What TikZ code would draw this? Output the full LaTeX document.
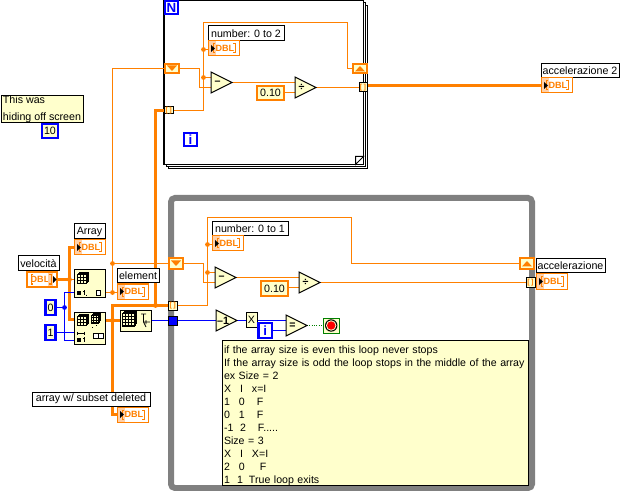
\documentclass[tikz,border=0pt]{standalone}
\usepackage{fontspec}
\setmainfont{Liberation Sans}
\definecolor{dblorange}{HTML}{FF8000}
\definecolor{paleorange}{HTML}{FFD0A8}
\definecolor{iconfill}{HTML}{FFFFCC}
\definecolor{loopgrey}{HTML}{808080}
\definecolor{intblue}{HTML}{0000FF}
\definecolor{boolgreen}{HTML}{008000}
\pgfdeclarelayer{loops}
\pgfdeclarelayer{wires}
\pgfsetlayers{loops,wires,main}
\tikzset{
  plainbox/.style={draw=black,line width=0.75pt,fill=white,inner sep=0pt,outer sep=0pt,font=\fontsize{8}{10}\selectfont},
  iconbox/.style={draw=black,line width=0.75pt,fill=iconfill,inner sep=0pt,outer sep=0pt},
  shell/.style={inner sep=0pt,outer sep=0pt},
  dblfront/.style={draw=dblorange,line width=0.75pt,fill=white,inner sep=0pt,outer sep=0pt,text=dblorange,font=\fontsize{6.8}{8}\bfseries\selectfont},
  dblctrl/.style={draw=dblorange,line width=1.7pt,fill=white,inner sep=0pt,outer sep=0pt,text=dblorange,font=\fontsize{6.8}{8}\bfseries\selectfont},
  dblconst/.style={draw=dblorange,line width=1.9pt,fill=iconfill,inner sep=0pt,outer sep=0pt,font=\fontsize{8}{10}\selectfont},
  intconst/.style={draw=intblue,line width=1.9pt,fill=iconfill,inner sep=0pt,outer sep=0pt,font=\fontsize{8}{10}\selectfont},
  terminal/.style={draw=intblue,line width=1.9pt,fill=white,inner sep=0pt,outer sep=0pt,text=intblue,font=\fontsize{10}{12}\bfseries\selectfont},
  shiftreg/.style={draw=dblorange,line width=1.7pt,fill=iconfill,inner sep=0pt,outer sep=0pt},
  tunnel/.style={draw=black,line width=0.75pt,fill=iconfill,inner sep=0pt,outer sep=0pt,text=dblorange,font=\fontsize{5.5}{6}\bfseries\selectfont},
  bluetunnel/.style={draw=black,line width=0.75pt,fill=intblue,inner sep=0pt,outer sep=0pt},
  thinwire/.style={draw=dblorange,line width=0.75pt},
  thickwire/.style={draw=dblorange,line width=1.8pt},
  bluewire/.style={draw=intblue,line width=0.75pt},
  joint/.style={fill=#1,circle,inner sep=0pt,minimum size=3.6pt},
  glyph/.style={inner sep=0pt,font=\fontsize{8}{9}\bfseries\selectfont},
}
% A node given by its pixel box: name, left, top, right, bottom, style, text
\newcommand{\lvbox}[7]{%
  \pgfmathsetmacro{\lvw}{(#4-#2)*0.75}%
  \pgfmathsetmacro{\lvh}{(#5-#3)*0.75}%
  \node[#6,anchor=north west,minimum width=\lvw pt,minimum height=\lvh pt] (#1) at (#2,#3) {#7};}
% Numeric indicator: name, left, top
\newcommand{\dblind}[3]{%
  \lvbox{#1}{#2}{#3}{#2+31}{#3+15}{dblfront}{\hspace{2pt}DBL}
  \fill[paleorange] ({#2+0.5},{#3+0.5}) rectangle ({#2+8},{#3+14.5});
  \draw[dblorange,line width=0.75pt] ({#2+7},{#3+3}) -- ({#2+5},{#3+3}) -- ({#2+5},{#3+12}) -- ({#2+7},{#3+12});
  \draw[dblorange,line width=0.75pt] ({#2+25},{#3+3}) -- ({#2+27},{#3+3}) -- ({#2+27},{#3+12}) -- ({#2+25},{#3+12});
  \fill[black] ({#2+3},{#3+4}) -- ({#2+7},{#3+7.5}) -- ({#2+3},{#3+11}) -- cycle;}
% Numeric control: name, left, top
\newcommand{\dblctl}[3]{%
  \lvbox{#1}{#2}{#3}{#2+30}{#3+15}{dblctrl}{\hspace{-3pt}DBL}
  \fill[paleorange] ({#2+21},{#3+1.5}) rectangle ({#2+26},{#3+13.5});
  \draw[dblorange,line width=0.75pt] ({#2+6},{#3+3}) -- ({#2+4},{#3+3}) -- ({#2+4},{#3+12}) -- ({#2+6},{#3+12});
  \draw[dblorange,line width=0.75pt] ({#2+22},{#3+3}) -- ({#2+24},{#3+3}) -- ({#2+24},{#3+12}) -- ({#2+22},{#3+12});
  \fill[black] ({#2+26},{#3+4}) -- ({#2+29.5},{#3+7.5}) -- ({#2+26},{#3+11}) -- cycle;}
% Triangular function: name, left, top, right, bottom, symbol
\newcommand{\lvtri}[6]{%
  \lvbox{#1}{#2}{#3}{#4}{#5}{shell}{}
  \draw[iconbox] (#1.north west) -- (#1.east) -- (#1.south west) -- cycle;
  \node[glyph] (#1sym) at ({#2+6.5},{(#3+#5)/2}) {#6};}
% Stacked array grid: left, top, cell size, cells across
\newcommand{\arrgrid}[4]{%
  \pgfmathsetmacro{\lvs}{#3*#4}%
  \foreach \lvo in {2,1,0}{%
    \draw[black,line width=0.5pt,fill=iconfill,shift={(\lvo,-\lvo+2)}] (#1,#2) rectangle ({#1+\lvs},{#2+\lvs});}
  \foreach \lvi in {1,...,#4}{%
    \draw[black,line width=0.35pt] ({#1+\lvi*#3},{#2+2}) -- ({#1+\lvi*#3},{#2+\lvs+2});
    \draw[black,line width=0.35pt] (#1,{#2+2+\lvi*#3}) -- ({#1+\lvs},{#2+2+\lvi*#3});}}
% One row of the truth table in the comment
\newcommand{\cmtrow}[5]{\makebox[#1][l]{#2}\makebox[#3][l]{#4}#5}

\begin{document}
\begin{tikzpicture}[x=0.75pt,y=-0.75pt]
\useasboundingbox (0,0) rectangle (620,491);

% ---- structures ----
\begin{pgfonlayer}{loops}
  \fill[white] (0,0) rectangle (620,491);
  \draw[black,line width=0.75pt,fill=white] (168,6) rectangle (367.5,168.5);
  \draw[black,line width=0.75pt,fill=white] (166,3) rectangle (365.5,166.5);
  \draw[black,line width=1.1pt,fill=white] (164,0.5) rectangle (363.5,164.5);
  \draw[black,line width=0.75pt,fill=white] (355.5,164.5) -- (355.5,156.5) -- (363.5,156.5) -- cycle;
  \draw[loopgrey,line width=4.5pt,rounded corners=3pt] (171,198) rectangle (532,488);
\end{pgfonlayer}

% ---- For loop contents ----
\lvbox{nterm}{165}{1}{178}{14}{terminal}{N}
\lvbox{iterm}{184}{133}{197}{146}{terminal}{i}
\lvbox{srtopl}{165}{64}{179}{73}{shiftreg}{}
\fill[dblorange] (167,65.5) -- (177,65.5) -- (172,71) -- cycle;
\lvbox{srtopr}{353}{64}{367}{73}{shiftreg}{}
\fill[dblorange] (355,71.5) -- (365,71.5) -- (360,66) -- cycle;
\lvbox{tuntopl}{164.5}{107}{173}{114}{tunnel}{[\,]}
\lvbox{tuntopr}{359}{83}{367}{92}{tunnel}{[\,]}
\lvbox{numtop}{208}{26}{284}{41}{plainbox}{number: 0 to 2}
\dblind{indtop}{208}{41}
\lvtri{subtop}{211}{72}{232}{93}{–}
\lvtri{divtop}{295}{77}{316}{98}{÷}
\lvbox{consttop}{257}{86}{284}{100}{dblconst}{0.10}
\coordinate (subtopa) at (211,77.5);
\coordinate (subtopb) at (211,87.5);
\coordinate (divtopa) at (295,82.5);
\coordinate (divtopb) at (295,92.5);

% ---- While loop contents ----
\lvbox{srbotl}{169}{258}{183}{269}{shiftreg}{}
\fill[dblorange] (171,260.5) -- (181,260.5) -- (176,266) -- cycle;
\lvbox{srbotr}{520}{258}{534}{269}{shiftreg}{}
\fill[dblorange] (522,266.5) -- (532,266.5) -- (527,261) -- cycle;
\lvbox{tunbotl}{168.5}{301}{177}{310}{tunnel}{[\,]}
\lvbox{tunbotr}{526}{278}{535}{287}{tunnel}{[\,]}
\lvbox{tunblue}{168.5}{316}{177}{325}{bluetunnel}{}
\lvbox{numbot}{212}{222}{288}{236}{plainbox}{number: 0 to 1}
\dblind{indbot}{212}{236}
\lvtri{subbot}{215}{267}{236}{288}{–}
\lvtri{divbot}{299}{272}{320}{293}{÷}
\lvbox{constbot}{261}{281}{288}{296}{dblconst}{0.10}
\coordinate (subbota) at (215,272.5);
\coordinate (subbotb) at (215,282.5);
\coordinate (divbota) at (299,277.5);
\coordinate (divbotb) at (299,287.5);
\lvtri{decr}{216}{310}{237}{331}{\hspace{1pt}–1}
\lvbox{xnode}{246}{312}{257}{327}{iconbox,font=\fontsize{8}{10}\selectfont}{X}
\lvbox{ibot}{258.5}{323}{272}{338}{terminal}{i}
\lvtri{equal}{286}{315}{307}{336}{=}
\coordinate (equala) at (286,320.5);
\coordinate (equalb) at (286,330.5);
\lvbox{stopn}{323.5}{318}{339}{333}{iconbox,draw=boolgreen}{}
\fill[black] (331.2,325.5) circle (6.2);
\fill[iconfill] (331.2,325.5) circle (5.2);
\fill[red] (331.2,325.5) circle (4.2);
\lvbox{comment}{222}{340}{528}{484}{iconbox,align=left,text width=226.5pt,inner xsep=1.2pt,font=\fontsize{7.95}{9.75}\selectfont}{%
\rule{0pt}{10pt}if the array size is even this loop never stops\\
If the array size is odd the loop stops in the middle of the array\\
ex Size = 2\\
\cmtrow{12pt}{X}{9pt}{I}{x=I}\\
\cmtrow{11.25pt}{1}{13.5pt}{0}{F}\\
\cmtrow{11.25pt}{0}{13.5pt}{1}{F}\\
\cmtrow{12pt}{-1}{13.5pt}{2}{F.....}\\
Size = 3\\
\cmtrow{12pt}{X}{9pt}{I}{X=I}\\
\cmtrow{11.25pt}{2}{15.75pt}{0}{F}\\
\cmtrow{9.75pt}{1}{9pt}{1}{True loop exits}}

% ---- Front panel terminals and labels ----
\lvbox{velabel}{18}{256}{59}{271}{plainbox}{velocità}
\dblctl{velctl}{27}{272}
\lvbox{arrlabel}{74}{224}{105}{239}{plainbox}{Array}
\dblind{arrind}{74}{240}
\lvbox{ellabel}{117}{269}{159}{283}{plainbox}{element}
\dblind{elind}{117}{284}
\lvbox{dellabel}{32}{392}{150}{406}{plainbox}{array w/ subset deleted}
\dblind{delind}{117}{407}
\lvbox{acc2label}{541}{64}{619}{78}{plainbox}{accelerazione 2}
\dblind{acc2ind}{541}{78}
\lvbox{acclabel}{536}{259}{605}{273}{plainbox}{accelerazione}
\dblind{accind}{536}{274}
\lvbox{note}{1}{96}{83}{122}{iconbox,align=left,font=\fontsize{8}{12.5}\selectfont}{This was\\hiding off screen}
\lvbox{tenconst}{42}{124}{58}{138}{intconst}{10}
\lvbox{zero}{45.5}{300}{55.5}{315}{intconst}{0}
\lvbox{one}{45.5}{325}{55.5}{340}{intconst}{1}

% ---- Array functions ----
\lvbox{index}{74}{270}{105.5}{297}{iconbox}{}
\arrgrid{77}{272}{3}{3}
\fill[black] (77,291) rectangle (81,295);
\draw[black,line width=0.5pt] (83,291) -- (85,291) (84,290) -- (84,295) (86,294.5) -- (86,295);
\draw[black,line width=0.6pt,fill=white] (96,290) rectangle (100,295);
\lvbox{delsub}{74}{312}{105.5}{344}{iconbox}{}
\arrgrid{77}{314}{3}{3}
\arrgrid{91}{313}{2.6}{3}
\draw[black,line width=0.5pt] (77,331.5) -- (77,335) (77,333) -- (84,333) (84,331.5) -- (84,335);
\fill[black] (77,338) rectangle (81,342);
\draw[black,line width=0.5pt] (83,338) -- (85,338) (84,337) -- (84,342);
\fill[black] (92,327) rectangle (93,328);
\fill[black] (96,325) rectangle (97,326);
\draw[black,line width=0.6pt,fill=white] (93,333) rectangle (98,338);
\draw[black,line width=0.6pt,fill=white] (98,333) rectangle (103,338);
\lvbox{reshape}{120}{310}{151.5}{331}{iconbox}{}
\arrgrid{122}{311}{3.2}{4}
\draw[black,line width=0.6pt] (141,314) -- (146,314) (143.5,314) -- (143.5,322) -- (150,322) (143.5,322) -- (146,327) (146,320) -- (146,324);

% ---- Wire junctions ----
\coordinate (velj) at (69.5,279.5);
\coordinate (velk) at (69.5,319.5);
\coordinate (elj) at (112.5,292.5);
\coordinate (elk) at (112.5,263.5);
\coordinate (delj) at (112.5,320.5);
\coordinate (elt) at (112.5,68.5);
\coordinate (delt) at (112.5,305.5);
\coordinate (deli) at (112.5,414.5);
\coordinate (dels) at (155.5,305.5);
\coordinate (delu) at (155.5,110.5);
\coordinate (tj0) at (199.5,68.5);
\coordinate (tj3) at (199.5,87.5);
\coordinate (tj4) at (203.5,110.5);
\coordinate (tj5) at (203.5,22.5);
\coordinate (tj6) at (347.5,22.5);
\coordinate (tj7) at (347.5,68.5);
\coordinate (tj1) at (203.5,49.5);
\coordinate (tj2) at (203.5,77.5);
\coordinate (acc2pin) at (367,85.5);
\coordinate (bj0) at (203.5,263.5);
\coordinate (bj3) at (203.5,282.5);
\coordinate (bj4) at (207.5,305.5);
\coordinate (bj5) at (207.5,217.5);
\coordinate (bj6) at (351.5,217.5);
\coordinate (bj7) at (351.5,263.5);
\coordinate (bj1) at (207.5,244.5);
\coordinate (bj2) at (207.5,272.5);
\coordinate (blj) at (64.5,307.5);
\coordinate (blu) at (64.5,292.5);
\coordinate (bld) at (64.5,340.5);
\coordinate (idxb) at (74,292.5);
\coordinate (dsa) at (74,340.5);
\coordinate (dsb) at (74,332.5);
\coordinate (tunel) at (117,292.5);

\begin{pgfonlayer}{wires}
  % Numeric wires on the left
  \draw[thickwire] (velctl.east) -- (velj);
  \draw[thickwire] (arrind.west) -| (velj);
  \draw[thickwire] (velj) -- (velk) -- (delsub.west |- velk);
  \draw[thinwire] (velj) -- (index.west |- velj);
  \draw[thinwire] (index.east |- elj) -- (tunel);
  \draw[thinwire] (elj) -- (elt) -- (srtopl.west);
  \draw[thinwire] (elk) -- (srbotl.west);
  \draw[thickwire] (delsub.east |- delj) -- (reshape.west);
  \draw[thickwire] (delj) -- (delt) -- (tunbotl.west |- delt);
  \draw[thickwire] (delj) -- (deli) -- (delind.west);
  \draw[thickwire] (dels) -- (delu) -- (tuntopl.west);
  % Integer wires
  \draw[bluewire] (zero.east) -- (blj);
  \draw[bluewire] (idxb) -- (blu) -- (bld) -- (dsa);
  \draw[bluewire] (one.east) -- (dsb);
  \draw[bluewire] (reshape.east) -- (tunblue.west);
  \draw[bluewire] (tunblue.east) -- (decr.west);
  \draw[bluewire] (decr.east) -- (equala);
  \draw[bluewire] (ibot.east) -- (equalb);
  \draw[boolgreen,line width=0.75pt,densely dotted] (equal.east) -- (stopn.west);
  % For loop wiring
  \draw[thinwire] (srtopl.east) -- (tj0) -- (tj3) -- (subtopb);
  \draw[thinwire] (tuntopl.east) -- (tj4) -- (tj5) -- (tj6) -- (tj7) -- (srtopr.west);
  \draw[thinwire] (tj1) -- (indtop.west |- tj1);
  \draw[thinwire] (tj2) -- (subtopa);
  \draw[thinwire] (subtop.east) -- (divtopa);
  \draw[thinwire] (consttop.east |- divtopb) -- (divtopb);
  \draw[thinwire] (divtop.east) -- (tuntopr.west);
  \draw[thickwire] (acc2pin) -- (acc2ind.west);
  % While loop wiring
  \draw[thinwire] (srbotl.east) -- (bj0) -- (bj3) -- (subbotb);
  \draw[thinwire] (tunbotl.east) -- (bj4) -- (bj5) -- (bj6) -- (bj7) -- (srbotr.west);
  \draw[thinwire] (bj1) -- (indbot.west |- bj1);
  \draw[thinwire] (bj2) -- (subbota);
  \draw[thinwire] (subbot.east) -- (divbota);
  \draw[thinwire] (constbot.east |- divbotb) -- (divbotb);
  \draw[thinwire] (divbot.east) -- (tunbotr.west);
  \draw[thinwire] (tunbotr.east) -- (accind.west |- tunbotr.east);
\end{pgfonlayer}

% ---- Wire dots ----
\foreach \lvp in {velj,elj,elk,delj,dels,tj1,tj2,bj1,bj2}{\node[joint=dblorange] at (\lvp) {};}
\node[joint=intblue] at (blj) {};
\end{tikzpicture}
\end{document}
